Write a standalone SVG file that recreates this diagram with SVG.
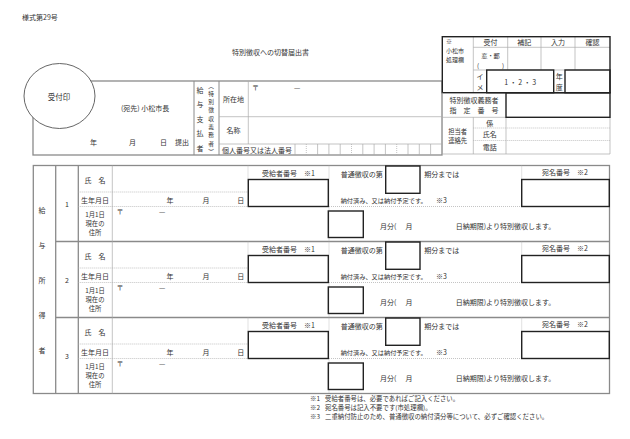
<svg xmlns="http://www.w3.org/2000/svg" width="630" height="439" viewBox="0 0 630 439">
<style>
.t{font-family:"Noto Sans CJK JP","Noto Sans CJK SC",sans-serif;font-size:7px;fill:#333}
.s{font-size:6px}
.n{font-size:6.4px}
.p{font-size:6.2px}
.q{font-size:6.3px}
.v{font-size:5.7px}
.m{text-anchor:middle}
.ln{stroke:#8a8a8a;stroke-width:1;fill:none}
.ob{stroke:#8a8a8a;stroke-width:1.3;fill:none}
.dt{stroke:#aaa;stroke-width:0.7;stroke-dasharray:1 1;fill:none}
.th{stroke:#aaa;stroke-width:0.7;fill:none}
.hv{stroke:#222;stroke-width:1.4;fill:none}
</style>
<rect width="630" height="439" fill="#fff"/>
<text class="t" x="22" y="19.5">様式第29号</text>
<text class="t m" x="270.5" y="55">特別徴収への切替届出書</text>

<g id="applicant">
<rect class="ob" x="33" y="81" width="409" height="74"/>
<path class="ln" d="M194,81V155M219,81V155"/>
<path class="th" d="M248.3,81V144M219,116.7H442M219,144H442M295,144V155"/>
<path class="th" d="M317.6,144V155M328.9,144V155M340.2,144V155M362.8,144V155M374.1,144V155M385.4,144V155M408,144V155M419.3,144V155M430.6,144V155"/>
<path class="dt" d="M306.3,144V155M351.5,144V155M396.7,144V155"/>
<ellipse cx="59.5" cy="96" rx="35.5" ry="32.5" fill="#fff" stroke="#555" stroke-width="0.9"/>
<text class="t m" x="59" y="100" style="font-size:7.5px">受付印</text>
<text class="t" x="121" y="111">(宛先) 小松市長</text>
<text class="t" x="90" y="145">年</text>
<text class="t" x="129" y="145">月</text>
<text class="t" x="160" y="145">日</text>
<text class="t" x="175" y="145">提出</text>
<text class="t m"><tspan x="200" y="92.5">給</tspan><tspan x="200" y="107">与</tspan><tspan x="200" y="121.5">支</tspan><tspan x="200" y="136">払</tspan><tspan x="200" y="150.5">者</tspan></text>
<text class="t m v"><tspan x="211" y="87.5">︵</tspan><tspan x="211" y="95.8">特</tspan><tspan x="211" y="104.1">別</tspan><tspan x="211" y="112.4">徴</tspan><tspan x="211" y="120.7">収</tspan><tspan x="211" y="129">義</tspan><tspan x="211" y="137.3">務</tspan><tspan x="211" y="145.6">者</tspan><tspan x="211" y="153.9">︶</tspan></text>
<text class="t m" x="233.5" y="102">所在地</text>
<text class="t m" x="233.5" y="132.5">名称</text>
<text class="t m" x="257" y="152.5">個人番号又は法人番号</text>
<text class="t" x="252" y="90">〒</text>
<text class="t" x="294" y="90">—</text>
</g>

<g id="office">
<path class="th" d="M473.3,36.7V92.7M507.7,36.7V70M541,36.7V70M575,36.7V70M473.3,47.3H610M473.3,70H610"/>
<rect class="hv" x="442.3" y="36.7" width="167.7" height="56"/>
<rect class="hv" x="486.7" y="70" width="67" height="22.7"/>
<rect class="hv" x="565" y="70" width="45" height="22.7"/>
<path class="th" d="M442.3,92.7V154M442.3,117.3H506M473.3,117.3V154M506,117.3V154M610,117.3V154M442.3,154H610"/>
<path class="dt" d="M473.3,128H610M473.3,140.5H610"/>
<rect class="hv" x="506" y="92.7" width="104" height="24.6"/>
<text class="t s"><tspan x="446" y="44">※</tspan><tspan x="446" y="52.8">小松市</tspan><tspan x="446" y="61.6">処理欄</tspan></text>
<g class="t m">
<text x="490.5" y="44.5">受付</text><text x="524.3" y="44.5">補記</text><text x="558" y="44.5">入力</text><text x="592.5" y="44.5">確認</text>
<text class="p"><tspan x="490.5" y="58.3">窓・郵</tspan><tspan x="478" y="67.5">(</tspan><tspan x="503" y="67.5">)</tspan></text>
<text><tspan x="480" y="79">イ</tspan><tspan x="480" y="89.5">メ</tspan></text>
<text x="520.2" y="84.5">1 ・ 2 ・ 3</text>
<text><tspan x="559.3" y="79">年</tspan><tspan x="559.3" y="89.5">度</tspan></text>
<text><tspan x="474" y="102.5">特別徴収義務者</tspan><tspan x="474" y="112.5">指　定　番　号</tspan></text>
<text class="q"><tspan x="457.7" y="133.5">担当者</tspan><tspan x="457.7" y="142.7">連絡先</tspan></text>
<text><tspan x="489.7" y="125.5">係</tspan><tspan x="489.7" y="137">氏名</tspan><tspan x="489.7" y="150">電話</tspan></text>
</g>
</g>

<g id="employees">
<rect class="ob" x="33.3" y="165.5" width="576.2" height="228"/>
<path class="ob" d="M55.7,165.5V393.5M78.3,165.5V393.5M55.7,241.5H609.5M55.7,317.5H609.5"/>
<text class="t m"><tspan x="42" y="212.5">給</tspan><tspan x="42" y="247.5">与</tspan><tspan x="42" y="282.5">所</tspan><tspan x="42" y="317.5">得</tspan><tspan x="42" y="352.5">者</tspan></text>
</g>

<g id="employee-1" transform="translate(0,165.5)">
<path class="th" d="M112.3,0V76"/>
<path class="dt" d="M248,0V41M329,0V76M521.7,0V41M78.3,26.5H248M78.3,41H248M329,41H609.5"/>
<rect class="hv" x="248.3" y="14" width="80" height="27"/>
<rect class="hv" x="385.7" y="0.5" width="34.3" height="27.3"/>
<rect class="hv" x="521.7" y="14" width="87.6" height="27"/>
<rect class="hv" x="328.3" y="45.5" width="35" height="26.5"/>
<g class="t">
<text class="m" x="67" y="41.3">1</text>
<text class="m" x="95" y="17">氏　名</text>
<text class="m" x="95" y="37">生年月日</text>
<text class="m q"><tspan x="95" y="51.5">1月1日</tspan><tspan x="95" y="60.7">現在の</tspan><tspan x="95" y="69.9">住所</tspan></text>
<text class="m" x="170" y="37">年</text><text class="m" x="206" y="37">月</text><text class="m" x="240.7" y="37">日</text>
<text x="116.5" y="48.7">〒</text><text x="159" y="48.7">—</text>
<text x="262" y="10.3">受給者番号　※1</text>
<text x="340.7" y="11.3">普通徴収の第</text><text x="424.3" y="11.3">期分までは</text>
<text class="p" x="340.7" y="37">納付済み、又は納付予定です。</text><text x="436" y="37">※3</text>
<text class="m" x="565" y="9">宛名番号　※2</text>
<text x="380" y="63.7">月分(</text><text class="m" x="409" y="63.7">月</text><text x="455.7" y="63.7">日納期限)より特別徴収します。</text>
</g>
</g>

<g id="employee-2" transform="translate(0,241.5)">
<path class="th" d="M112.3,0V76"/>
<path class="dt" d="M248,0V41M329,0V76M521.7,0V41M78.3,26.5H248M78.3,41H248M329,41H609.5"/>
<rect class="hv" x="248.3" y="14" width="80" height="27"/>
<rect class="hv" x="385.7" y="0.5" width="34.3" height="27.3"/>
<rect class="hv" x="521.7" y="14" width="87.6" height="27"/>
<rect class="hv" x="328.3" y="45.5" width="35" height="26.5"/>
<g class="t">
<text class="m" x="67" y="41.3">2</text>
<text class="m" x="95" y="17">氏　名</text>
<text class="m" x="95" y="37">生年月日</text>
<text class="m q"><tspan x="95" y="51.5">1月1日</tspan><tspan x="95" y="60.7">現在の</tspan><tspan x="95" y="69.9">住所</tspan></text>
<text class="m" x="170" y="37">年</text><text class="m" x="206" y="37">月</text><text class="m" x="240.7" y="37">日</text>
<text x="116.5" y="48.7">〒</text><text x="159" y="48.7">—</text>
<text x="262" y="10.3">受給者番号　※1</text>
<text x="340.7" y="11.3">普通徴収の第</text><text x="424.3" y="11.3">期分までは</text>
<text class="p" x="340.7" y="37">納付済み、又は納付予定です。</text><text x="436" y="37">※3</text>
<text class="m" x="565" y="9">宛名番号　※2</text>
<text x="380" y="63.7">月分(</text><text class="m" x="409" y="63.7">月</text><text x="455.7" y="63.7">日納期限)より特別徴収します。</text>
</g>
</g>

<g id="employee-3" transform="translate(0,317.5)">
<path class="th" d="M112.3,0V76"/>
<path class="dt" d="M248,0V41M329,0V76M521.7,0V41M78.3,26.5H248M78.3,41H248M329,41H609.5"/>
<rect class="hv" x="248.3" y="14" width="80" height="27"/>
<rect class="hv" x="385.7" y="0.5" width="34.3" height="27.3"/>
<rect class="hv" x="521.7" y="14" width="87.6" height="27"/>
<rect class="hv" x="328.3" y="45.5" width="35" height="26.5"/>
<g class="t">
<text class="m" x="67" y="41.3">3</text>
<text class="m" x="95" y="17">氏　名</text>
<text class="m" x="95" y="37">生年月日</text>
<text class="m q"><tspan x="95" y="51.5">1月1日</tspan><tspan x="95" y="60.7">現在の</tspan><tspan x="95" y="69.9">住所</tspan></text>
<text class="m" x="170" y="37">年</text><text class="m" x="206" y="37">月</text><text class="m" x="240.7" y="37">日</text>
<text x="116.5" y="48.7">〒</text><text x="159" y="48.7">—</text>
<text x="262" y="10.3">受給者番号　※1</text>
<text x="340.7" y="11.3">普通徴収の第</text><text x="424.3" y="11.3">期分までは</text>
<text class="p" x="340.7" y="37">納付済み、又は納付予定です。</text><text x="436" y="37">※3</text>
<text class="m" x="565" y="9">宛名番号　※2</text>
<text x="380" y="63.7">月分(</text><text class="m" x="409" y="63.7">月</text><text x="455.7" y="63.7">日納期限)より特別徴収します。</text>
</g>
</g>

<text id="notes" class="t n"><tspan x="310" y="400.5">※1</tspan><tspan x="325" y="400.5">受給者番号は、必要であればご記入ください。</tspan><tspan x="310" y="409.8">※2</tspan><tspan x="325" y="409.8">宛名番号は記入不要です(市処理欄)。</tspan><tspan x="310" y="419.1">※3</tspan><tspan x="325" y="419.1">二重納付防止のため、普通徴収の納付済分等について、必ずご確認ください。</tspan></text>
</svg>
